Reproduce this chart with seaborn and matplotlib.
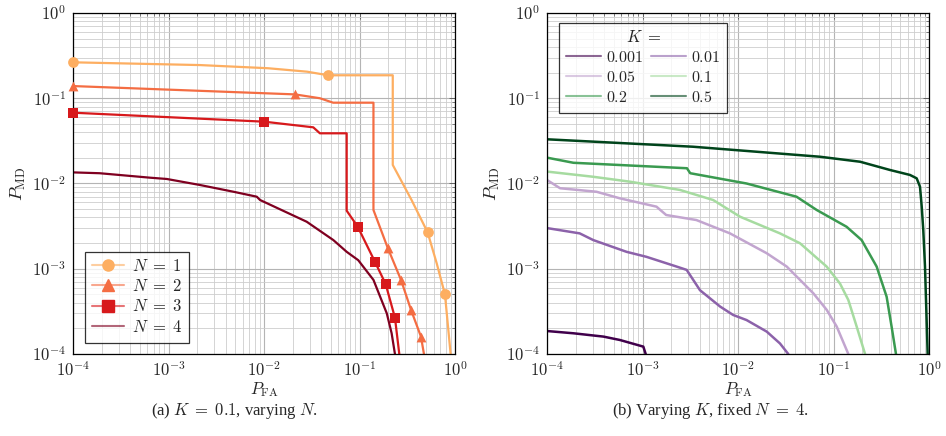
import numpy as np
import pandas as pd
import seaborn as sns
import matplotlib
matplotlib.use('Agg')
import matplotlib.pyplot as plt
from matplotlib.lines import Line2D
from matplotlib.colors import to_rgba
from matplotlib.ticker import LogLocator, NullFormatter, FuncFormatter

# ---- data (a): K = 0.1, varying N ----
n1_x = [1e-4, 0.00214, 0.011, 0.0282, 0.047, 0.223, 0.223, 0.351, 0.517, 0.643, 0.785, 0.90]
n1_y = [0.264, 0.245, 0.225, 0.205, 0.186, 0.186, 0.0165, 0.0064, 0.00267, 0.00116, 5.0e-4, 1e-4]
n1_mx = [1e-4, 0.047, 0.517, 0.785]
n1_my = [0.264, 0.186, 0.00267, 5.0e-4]

n2_x = [1e-4, 0.0211, 0.0385, 0.053, 0.14, 0.14, 0.197, 0.272, 0.346, 0.44, 0.473]
n2_y = [0.139, 0.111, 0.1, 0.0887, 0.0887, 0.00489, 0.00177, 7.4e-4, 3.3e-4, 1.6e-4, 1e-4]
n2_mx = [1e-4, 0.0211, 0.197, 0.272, 0.346, 0.44]
n2_my = [0.139, 0.111, 0.00177, 7.4e-4, 3.3e-4, 1.6e-4]

n3_x = [1e-4, 0.01007, 0.0328, 0.0385, 0.0734, 0.0734, 0.0957, 0.145, 0.188, 0.235, 0.261]
n3_y = [0.0677, 0.0531, 0.0456, 0.0388, 0.0388, 0.0048, 0.00312, 0.00121, 6.6e-4, 2.67e-4, 1e-4]
n3_mx = [1e-4, 0.01007, 0.0957, 0.145, 0.188, 0.235]
n3_my = [0.0677, 0.0531, 0.00312, 0.00121, 6.6e-4, 2.67e-4]

n4_x = [1e-4, 1.9e-4, 6.4e-4, 9.6e-4, 0.00214, 0.0048, 0.0084, 0.0091, 0.028, 0.0532,
        0.0734, 0.097, 0.140, 0.193, 0.217, 0.235]
n4_y = [0.0135, 0.0132, 0.0117, 0.0113, 0.0096, 0.0080, 0.0070, 0.0064, 0.00356, 0.00217,
        0.00158, 0.00126, 7.4e-4, 3.0e-4, 1.75e-4, 1e-4]

# ---- data (b): varying K, N = 4 ----
k0001_x = [1e-4, 1.89e-4, 3.9e-4, 5.8e-4, 0.00102, 0.00108]
k0001_y = [1.86e-4, 1.75e-4, 1.6e-4, 1.46e-4, 1.22e-4, 1e-4]

k001_x = [1e-4, 2.2e-4, 3.05e-4, 6.8e-4, 0.0011, 0.00228, 0.0029, 0.004, 0.0065, 0.0089,
          0.0123, 0.02, 0.0275, 0.0336]
k001_y = [0.003, 0.0026, 0.00217, 0.00158, 0.00138, 0.00106, 9.7e-4, 5.6e-4, 3.6e-4, 2.87e-4,
          2.5e-4, 1.83e-4, 1.33e-4, 1e-4]

k005_x = [1e-4, 1.37e-4, 3.3e-4, 5.8e-4, 0.0014, 0.00177, 0.00366, 0.00824, 0.02, 0.0324,
          0.0446, 0.0615, 0.0848, 0.108, 0.143]
k005_y = [0.011, 0.0088, 0.008, 0.0067, 0.00535, 0.00427, 0.00373, 0.0026, 0.00152, 0.00106,
          7.4e-4, 5.15e-4, 3.3e-4, 2.1e-4, 1e-4]

k01_x = [1e-4, 3.03e-4, 7.4e-4, 0.00247, 0.0055, 0.0105, 0.0275, 0.0446, 0.0848, 0.117,
         0.143, 0.175, 0.214]
k01_y = [0.0138, 0.012, 0.0105, 0.0084, 0.0064, 0.00408, 0.0026, 0.00199, 0.00106, 6.7e-4,
         4.3e-4, 2.09e-4, 1e-4]

k02_x = [1e-4, 1.89e-4, 0.00292, 0.00316, 0.0123, 0.041, 0.0667, 0.137, 0.197, 0.283,
         0.360, 0.406, 0.451]
k02_y = [0.0201, 0.0175, 0.0151, 0.0132, 0.0100, 0.0070, 0.00489, 0.00311, 0.00217, 0.00106,
         4.7e-4, 2.09e-4, 1e-4]

k05_x = [1e-4, 0.00338, 0.0723, 0.19, 0.391, 0.632, 0.743, 0.805, 0.839, 0.871, 0.908, 0.968]
k05_y = [0.033, 0.027, 0.0206, 0.018, 0.0144, 0.0126, 0.0115, 0.00917, 0.00535, 0.00285,
         0.00106, 1e-4]

n_labels = ['$N\\;=\\;1$', '$N\\;=\\;2$', '$N\\;=\\;3$', '$N\\;=\\;4$']
n_colors = ['#fdae61', '#f46d43', '#d7191c', '#7f0020']
k_labels = ['0.001', '0.01', '0.05', '0.1', '0.2', '0.5']
k_colors = ['#40004b', '#8c62aa', '#c2a5cf', '#a6dba0', '#3a9a50', '#00441b']

sns.set_style('white')
plt.rcParams['font.family'] = ['Liberation Serif', 'DejaVu Serif']
plt.rcParams['mathtext.fontset'] = 'cm'
plt.rcParams['font.size'] = 10

fig = plt.figure(figsize=(9.46, 4.36), dpi=100)
W, H = 946, 436
ax1 = fig.add_axes([73 / W, (H - 354) / H, 382 / W, 341 / H])
ax2 = fig.add_axes([547 / W, (H - 354) / H, 382 / W, 341 / H])

pow_fmt = FuncFormatter(lambda v, p: '$10^{%d}$' % int(round(np.log10(v))))


def style_axis(ax):
    ax.set_xscale('log')
    ax.set_yscale('log')
    ax.set_xlim(1e-4, 1)
    ax.set_ylim(1e-4, 1)
    ax.xaxis.set_major_locator(LogLocator(base=10, numticks=10))
    ax.yaxis.set_major_locator(LogLocator(base=10, numticks=10))
    ax.xaxis.set_minor_locator(LogLocator(base=10, subs=np.arange(2, 10), numticks=20))
    ax.yaxis.set_minor_locator(LogLocator(base=10, subs=np.arange(2, 10), numticks=20))
    ax.xaxis.set_major_formatter(pow_fmt)
    ax.yaxis.set_major_formatter(pow_fmt)
    ax.xaxis.set_minor_formatter(NullFormatter())
    ax.yaxis.set_minor_formatter(NullFormatter())
    ax.grid(which='major', color='#b4b4b4', lw=0.8)
    ax.grid(which='minor', color='#cdcdcd', lw=0.6)
    ax.set_axisbelow(True)
    ax.tick_params(which='both', direction='in', top=True, right=True, color='#555555',
                   labelsize=12)
    ax.tick_params(which='major', length=4, width=0.6, pad=5)
    ax.tick_params(which='minor', length=2.5, width=0.5)
    for s in ax.spines.values():
        s.set_color('black')
        s.set_linewidth(0.9)
    ax.set_xlabel('$P_{\\mathrm{FA}}$', fontsize=12)
    ax.xaxis.set_label_coords(0.5, -0.078)
    ax.set_ylabel('$P_{\\mathrm{MD}}$', fontsize=13, labelpad=3)


# panel (a)
series_a = [(n1_x, n1_y, n1_mx, n1_my, 'o', 60),
            (n2_x, n2_y, n2_mx, n2_my, '^', 50),
            (n3_x, n3_y, n3_mx, n3_my, 's', 56),
            (n4_x, n4_y, None, None, None, 0)]
handles = []
for (x, y, mx, my, mk, ms), c, lab in zip(series_a, n_colors, n_labels):
    sns.lineplot(x=x, y=y, ax=ax1, color=c, lw=1.6, sort=False, estimator=None)
    if mx is not None:
        sns.scatterplot(x=mx, y=my, ax=ax1, color=c, marker=mk, s=ms, edgecolor=c,
                        linewidth=0, zorder=5, clip_on=False)
    handles.append(Line2D([], [], color=to_rgba(c, 0.6), lw=1.5, marker=mk,
                          markersize=8 if mk else 0, markerfacecolor=c, markeredgecolor=c))
style_axis(ax1)
leg1 = ax1.legend(handles, n_labels, loc='lower left', bbox_to_anchor=(0.031, 0.032),
                  fontsize=12, frameon=True, fancybox=False, edgecolor='black',
                  handlelength=1.9, handletextpad=0.45, borderpad=0.45, labelspacing=0.25,
                  borderaxespad=0)
leg1.get_frame().set_linewidth(0.9)

# panel (b)
series_b = [(k0001_x, k0001_y), (k001_x, k001_y), (k005_x, k005_y),
            (k01_x, k01_y), (k02_x, k02_y), (k05_x, k05_y)]
handles2 = []
for (x, y), c in zip(series_b, k_colors):
    sns.lineplot(x=x, y=y, ax=ax2, color=c, lw=1.8, sort=False, estimator=None)
    handles2.append(Line2D([], [], color=to_rgba(c, 0.6), lw=1.5))
style_axis(ax2)
order = [0, 2, 4, 1, 3, 5]
leg2 = ax2.legend([handles2[i] for i in order],
                  ['$\\mathrm{' + k_labels[i] + '}$' for i in order],
                  title='$K\\;=$', ncol=2, loc='upper left', bbox_to_anchor=(0.031, 0.971),
                  fontsize=11.5, title_fontsize=12, frameon=True, fancybox=False,
                  edgecolor='black', handlelength=2.2, borderpad=0.45, labelspacing=0.25,
                  columnspacing=0.5, handletextpad=0.3, borderaxespad=0)
leg2.get_frame().set_linewidth(0.9)

# sub-captions, centred on each sub-figure (labels included)
fig.text(234 / W, 1 - 411 / H, '(a) $K\\;=\\;0.1$, varying $N$.', ha='center',
         va='center', fontsize=12)
fig.text(710 / W, 1 - 411 / H, '(b) Varying $K$, fixed $N\\;=\\;4$.', ha='center',
         va='center', fontsize=12)

fig.savefig('out.png', dpi=100)
